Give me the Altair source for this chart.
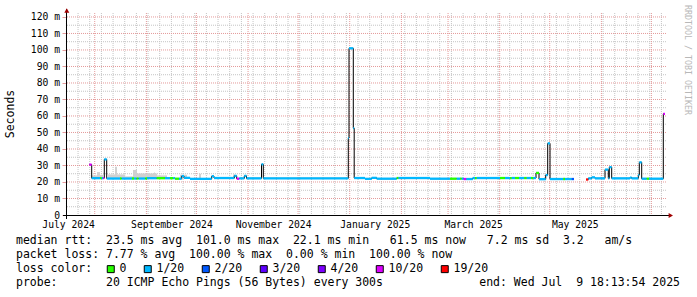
import altair as alt
import pandas as pd

MONO = "DejaVu Sans Mono"

# ---- time window (360 days ending at the "end:" stamp) ----
START = pd.Timestamp("2024-07-14 18:13:54")
END = pd.Timestamp("2025-07-09 18:13:54")

# ---- median rtt segments: boundaries in days since START ----
seg_bounds = [13.98, 15.42, 20.4, 21.42, 22.38, 22.98, 24.42, 32.4, 33.42, 39.6,
              40.8, 42.42, 43.62, 47.58, 48.6, 54.42, 59.4, 62.4, 64.38, 65.4,
              67.8, 69.42, 70.8, 74.4, 87.42, 88.8, 100.98, 102.42, 103.98, 106.98,
              108.3, 117.3, 118.38, 169.38, 169.8, 172.38, 172.92, 179.4, 183.42, 186.42,
              198.42, 199.5, 218.4, 230.4, 234.42, 236.4, 237.42, 238.62, 240.18, 244.02,
              245.4, 246.42, 260.4, 263.4, 266.4, 267.42, 269.4, 271.8, 274.98, 276.42,
              279.0, 280.38, 282.0, 283.8, 287.82, 289.02, 290.4, 298.38, 299.4, 303.42,
              304.8, 312.0, 313.38, 315.42, 317.4, 323.4, 325.38, 325.98, 327.42, 338.4,
              339.42, 343.38, 343.98, 345.42, 348.42, 349.8, 358.38, 359.4]
# median rtt in ms for each segment (None = no data)
seg_ms = [30.5, 22.3, 22.3, 22.3, 22.3, 33.7, 22.1, 22.1, 22.1, 22.1,
          22.1, 22.1, 22.1, 22.1, 22.3, 22.3, 22.3, 22.3, 22.3, 22.0,
          22.0, 23.6, 22.5, 21.9, 23.5, 22.4, 23.7, 22.0, 22.2, 23.7,
          22.2, 30.7, 22.2, 46.6, 101.0, 52.6, 22.4, 21.9, 22.5, 22.0,
          22.4, 22.4, 22.0, 22.0, 22.0, 22.0, 22.0, 21.8, 21.8, 22.4,
          22.4, 22.4, 22.4, 22.4, 22.4, 22.4, 22.4, 22.4, 22.4, 22.4,
          22.4, 22.4, 25.5, 21.7, 24.2, 43.4, 21.8, 21.8, 21.8, 21.8,
          None, 21.5, 22.2, 22.8, 22.2, 27.5, 22.2, 29.0, 22.2, 22.7,
          22.2, 24.2, 31.9, 22.0, 22.0, 22.0, 61.3]
# packet loss class of each segment
seg_loss = ["10/20", "1/20", "0", "1/20", "10/20", "1/20", "1/20", "0", "1/20", "0",
            "1/20", "0", "1/20", "0", "1/20", "0", "1/20", "0", "1/20", "0",
            "1/20", "1/20", "1/20", "1/20", "1/20", "1/20", "1/20", "10/20", "1/20", "1/20",
            "1/20", "1/20", "1/20", "1/20", "1/20", "1/20", "1/20", "1/20", "1/20", "1/20",
            "0", "1/20", "1/20", "0", "1/20", "0", "1/20", "10/20", "1/20", "1/20",
            "0", "1/20", "0", "1/20", "0", "1/20", "0", "1/20", "0", "1/20",
            "0", "1/20", "0", "1/20", "1/20", "1/20", "1/20", "0", "1/20", "2/20",
            None, "19/20", "1/20", "1/20", "1/20", "1/20", "1/20", "1/20", "1/20", "1/20",
            "1/20", "1/20", "1/20", "1/20", "0", "1/20", "10/20"]

# ---- smoke (ping spread) ----
smoke_start = [15.6, 18.6, 20.4, 25.2, 29.4, 30.6, 35.4, 40.2, 42.6, 52.8, 53.4, 54.6, 68.4, 79.8, 100.2]
smoke_end = [18.6, 20.4, 22.2, 29.4, 30.6, 35.4, 40.2, 42.6, 52.8, 53.4, 54.6, 60.6, 72.6, 81.0, 101.4]
smoke_top = [24.0, 26.0, 24.3, 24.6, 29.3, 24.6, 23.4, 27.3, 25.2, 25.8, 25.2, 24.0, 24.4, 25.0, 24.5]
smoke_base = 22.0

# ---- legend ----
loss_labels = ["0", "1/20", "2/20", "3/20", "4/20", "10/20", "19/20"]
loss_colors = ["#26ff00", "#00b8ff", "#0059ff", "#5e00ff", "#7e00ff", "#dd00ff", "#ff0000"]

y_ticks = list(range(0, 121, 10))
y_minor = list(range(5, 120, 10))
x_label_dates = [(2024, 7, 16), (2024, 9, 16), (2024, 11, 16), (2025, 1, 16), (2025, 3, 16), (2025, 5, 16)]

line_rtt = "median rtt:  23.5 ms avg  101.0 ms max  22.1 ms min   61.5 ms now   7.2 ms sd  3.2   am/s"
line_loss = "packet loss: 7.77 % avg  100.00 % max  0.00 % min  100.00 % now"
line_color = "loss color:"
line_probe = "probe:       20 ICMP Echo Pings (56 Bytes) every 300s"
line_end = "end: Wed Jul  9 18:13:54 2025"
y_title = "Seconds"
watermark = "RRDTOOL / TOBI OETIKER"


def at(d):
    return START + pd.to_timedelta(d, unit="D")


seg = pd.DataFrame({
    "t0": [at(d) for d in seg_bounds[:-1]],
    "t1": [at(d) for d in seg_bounds[1:]],
    "ms": seg_ms,
    "loss": seg_loss,
})
seg_ok = seg.dropna().copy()
seg_ok["lo"] = seg_ok["ms"] - 0.7
seg_ok["hi"] = seg_ok["ms"] + 0.7

pts = []
g = 0
k = 0
for _, r in seg.iterrows():
    if pd.isna(r["ms"]):
        g += 1
        continue
    pts.append({"t": r["t0"], "ms": r["ms"], "g": g, "k": k}); k += 1
    pts.append({"t": r["t1"], "ms": r["ms"], "g": g, "k": k}); k += 1
line_df = pd.DataFrame(pts)

smoke = pd.DataFrame({
    "t0": [at(d) for d in smoke_start],
    "t1": [at(d) for d in smoke_end],
    "top": smoke_top,
    "base": [smoke_base] * len(smoke_top),
})

months = pd.DataFrame({"t": pd.date_range("2024-08-01", "2025-07-01", freq="MS")})
weeks = pd.DataFrame({"t": pd.date_range("2024-07-15", "2025-07-07", freq="W-MON")})
hmaj = pd.DataFrame({"v": y_ticks[1:]})
hmin = pd.DataFrame({"v": y_minor})


def dt(ts):
    return alt.DateTime(year=ts.year, month=ts.month, date=ts.day,
                        hours=ts.hour, minutes=ts.minute, seconds=ts.second)


GRAY = "#c4c4c4"
RED = "#e49a9a"

xs = alt.Scale(domain=[dt(START), dt(END)])
ys = alt.Scale(domain=[0, 122.4], nice=False, zero=False)

X_AX = alt.Axis(
    values=[alt.DateTime(year=a, month=b, date=c) for a, b, c in x_label_dates],
    format="%B %Y", labelFont=MONO, labelFontSize=9.7, labelColor="black",
    tickSize=0, domain=False, grid=False, labelPadding=4.5, title=None,
    labelFlush=False, labelOverlap=False)
Y_AX = alt.Axis(
    values=y_ticks, labelExpr="datum.value == 0 ? '0' : datum.value + ' m'",
    labelFont=MONO, labelFontSize=9.7, labelColor="black", tickSize=4,
    tickColor=RED, domain=False, grid=False, labelPadding=2.5, title=None)


def X(f):
    return alt.X(f, scale=xs, axis=X_AX)


def Y(f):
    return alt.Y(f, scale=ys, axis=Y_AX)


g_week = alt.Chart(weeks).mark_rule(color=GRAY, strokeWidth=1, strokeDash=[1, 1]).encode(x=X("t:T"))
g_hmin = alt.Chart(hmin).mark_rule(color=GRAY, strokeWidth=1, strokeDash=[1, 1]).encode(y=Y("v:Q"))
g_month = alt.Chart(months).mark_rule(color=RED, strokeWidth=1, strokeDash=[1, 1]).encode(x=X("t:T"))
g_hmaj = alt.Chart(hmaj).mark_rule(color=RED, strokeWidth=1, strokeDash=[1, 1]).encode(y=Y("v:Q"))

smoke_l = alt.Chart(smoke).mark_rect(color="#d0d0d0").encode(
    x=X("t0:T"), x2="t1:T", y=Y("base:Q"), y2="top:Q")

med_line = alt.Chart(line_df).mark_line(color="black", strokeWidth=1).encode(
    x=X("t:T"), y=Y("ms:Q"), detail="g:N", order="k:Q")

bands = alt.Chart(seg_ok).mark_rect().encode(
    x=X("t0:T"), x2="t1:T",
    y=Y("lo:Q"), y2="hi:Q",
    fill=alt.Fill("loss:N", scale=alt.Scale(domain=loss_labels, range=loss_colors),
                  legend=alt.Legend(title=None, orient="none", legendX=39, legendY=250,
                                    direction="horizontal", symbolType="square",
                                    symbolSize=49, symbolStrokeColor="black",
                                    symbolStrokeWidth=1, labelFont=MONO, labelFontSize=11.5,
                                    labelColor="black", labelOffset=3, columnPadding=15)),
)

one = pd.DataFrame({"a": [0]})
ax_x = alt.Chart(one).mark_rule(color="black", strokeWidth=1).encode(
    x=alt.value(-3), x2=alt.value(603), y=alt.value(202.5))
ax_y = alt.Chart(one).mark_rule(color="black", strokeWidth=1).encode(
    x=alt.value(0.5), y=alt.value(-4), y2=alt.value(206))
arr_up = alt.Chart(one).mark_point(shape="triangle-up", filled=True, size=25,
                                   color="#a00000", opacity=1).encode(
    x=alt.value(0.8), y=alt.value(-2.5))
arr_right = alt.Chart(one).mark_point(shape="triangle-right", filled=True, size=25,
                                      color="#a00000", opacity=1).encode(
    x=alt.value(604.8), y=alt.value(202.5))


def txt(s, x, y, align="left", size=11.5, color="black", angle=0):
    kw = dict(font=MONO, fontSize=size, align=align, baseline="middle", color=color)
    if angle:
        kw["angle"] = angle
    s = s.replace(" ", "\u00a0")
    return alt.Chart(pd.DataFrame({"s": [s]})).mark_text(**kw).encode(
        text="s:N", x=alt.value(x), y=alt.value(y))


texts = [
    txt(line_rtt, -50, 228),
    txt(line_loss, -50, 242),
    txt(line_color, -50, 256),
    txt(line_probe, -50, 270),
    txt(line_end, 614, 270, align="right"),
    txt(y_title, -55, 101, align="center", angle=270),
    txt(watermark, 621, -8, align="left", size=8.3, color="#b8b8b8", angle=90),
]

chart = alt.layer(
    g_week, g_hmin, g_month, g_hmaj, smoke_l, med_line, bands,
    ax_x, ax_y, arr_up, arr_right, *texts
).properties(
    width=600, height=202,
    padding={"left": 66, "top": 13, "right": 31, "bottom": 82},
    autosize=alt.AutoSizeParams(type="none"),
    background="white",
).configure_view(stroke=None)

chart.save("out.html", embed_options={"renderer": "svg", "actions": False})
